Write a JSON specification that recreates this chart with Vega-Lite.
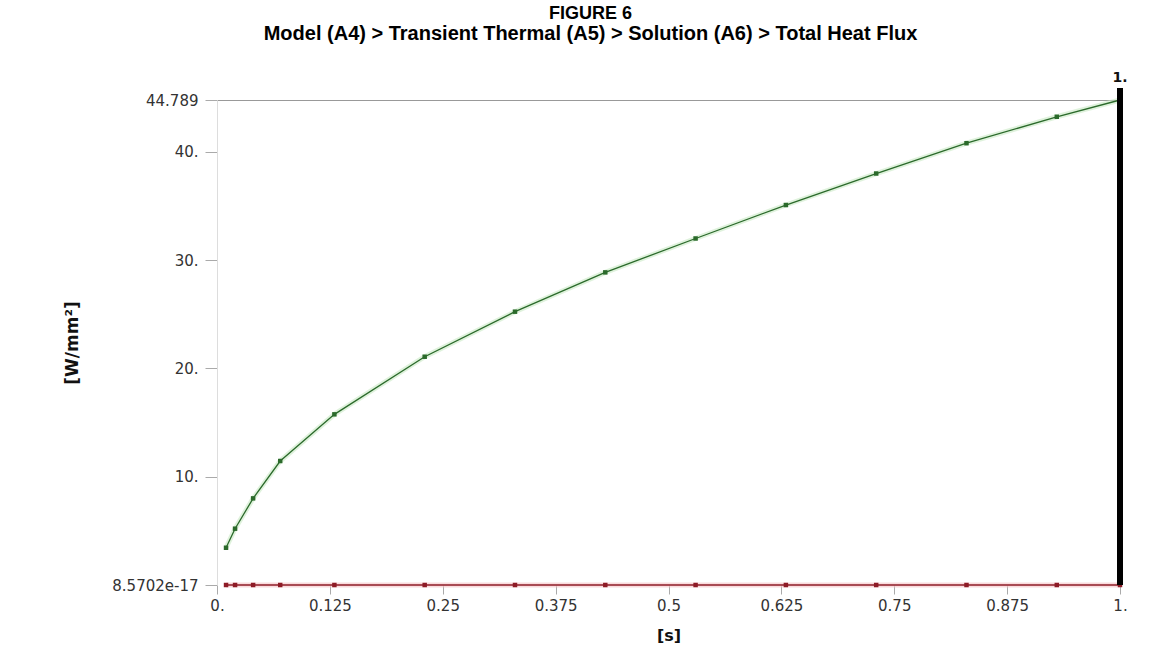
{
  "$schema": "https://vega.github.io/schema/vega-lite/v6.json",
  "autosize": {"type": "none"},
  "width": 903,
  "height": 485,
  "padding": {"left": 217, "top": 100, "right": 36, "bottom": 86},
  "background": "white",
  "title": {
    "text": "FIGURE 6",
    "subtitle": "Model (A4) > Transient Thermal (A5) > Solution (A6) > Total Heat Flux",
    "anchor": "middle",
    "dx": -78,
    "offset": 27,
    "font": "Liberation Sans",
    "fontSize": 18,
    "fontWeight": "bold",
    "color": "#000",
    "subtitleFont": "Liberation Sans",
    "subtitleFontSize": 20,
    "subtitleFontWeight": "bold",
    "subtitleColor": "#000",
    "subtitlePadding": 1
  },
  "config": {
    "view": {"stroke": null},
    "axis": {"labelFont": "DejaVu Sans", "titleFont": "DejaVu Sans"}
  },
  "data": {
    "values": [
      {"t": 0.01, "flux": 3.44, "series": "Maximum"},
      {"t": 0.02, "flux": 5.2, "series": "Maximum"},
      {"t": 0.04, "flux": 8.0, "series": "Maximum"},
      {"t": 0.07, "flux": 11.45, "series": "Maximum"},
      {"t": 0.13, "flux": 15.76, "series": "Maximum"},
      {"t": 0.23, "flux": 21.08, "series": "Maximum"},
      {"t": 0.33, "flux": 25.24, "series": "Maximum"},
      {"t": 0.43, "flux": 28.87, "series": "Maximum"},
      {"t": 0.53, "flux": 32.0, "series": "Maximum"},
      {"t": 0.63, "flux": 35.09, "series": "Maximum"},
      {"t": 0.73, "flux": 38.0, "series": "Maximum"},
      {"t": 0.83, "flux": 40.8, "series": "Maximum"},
      {"t": 0.93, "flux": 43.24, "series": "Maximum"},
      {"t": 1.0, "flux": 44.789, "series": "Maximum"},
      {"t": 0.01, "flux": 8.5702e-17, "series": "Minimum"},
      {"t": 0.02, "flux": 8.5702e-17, "series": "Minimum"},
      {"t": 0.04, "flux": 8.5702e-17, "series": "Minimum"},
      {"t": 0.07, "flux": 8.5702e-17, "series": "Minimum"},
      {"t": 0.13, "flux": 8.5702e-17, "series": "Minimum"},
      {"t": 0.23, "flux": 8.5702e-17, "series": "Minimum"},
      {"t": 0.33, "flux": 8.5702e-17, "series": "Minimum"},
      {"t": 0.43, "flux": 8.5702e-17, "series": "Minimum"},
      {"t": 0.53, "flux": 8.5702e-17, "series": "Minimum"},
      {"t": 0.63, "flux": 8.5702e-17, "series": "Minimum"},
      {"t": 0.73, "flux": 8.5702e-17, "series": "Minimum"},
      {"t": 0.83, "flux": 8.5702e-17, "series": "Minimum"},
      {"t": 0.93, "flux": 8.5702e-17, "series": "Minimum"},
      {"t": 1.0, "flux": 8.5702e-17, "series": "Minimum"}
    ]
  },
  "encoding": {
    "x": {
      "field": "t",
      "type": "quantitative",
      "scale": {"domain": [0, 1], "nice": false, "zero": false},
      "axis": {
        "title": "[s]",
        "titleFontSize": 16,
        "titleFontWeight": "bold",
        "titleColor": "#111",
        "titlePadding": 14,
        "values": [0, 0.125, 0.25, 0.375, 0.5, 0.625, 0.75, 0.875, 1],
        "labelExpr": "datum.value == 0 ? '0.' : (datum.value == 1 ? '1.' : '' + datum.value)",
        "labelFontSize": 15,
        "labelColor": "#333",
        "labelFlush": false,
        "labelPadding": 4,
        "tickColor": "#aaa",
        "tickSize": 9,
        "domain": false,
        "grid": false
      }
    },
    "y": {
      "field": "flux",
      "type": "quantitative",
      "scale": {"domain": [0, 44.789], "nice": false, "zero": false},
      "axis": {
        "title": "[W/mm²]",
        "titleFontSize": 17,
        "titleFontWeight": "bold",
        "titleColor": "#111",
        "titlePadding": 30,
        "values": [0, 10, 20, 30, 40, 44.789],
        "labelExpr": "datum.value == 0 ? '8.5702e-17' : (datum.value > 44 ? '44.789' : datum.value + '.')",
        "labelFontSize": 15,
        "labelColor": "#333",
        "labelFlush": false,
        "labelPadding": 7,
        "tickColor": "#aaa",
        "tickSize": 12,
        "domainColor": "#ddd",
        "grid": true,
        "gridColor": "#999",
        "gridOpacity": {"condition": {"test": "datum.value > 44", "value": 1}, "value": 0}
      }
    }
  },
  "layer": [
    {
      "mark": {"type": "line", "strokeWidth": 5, "opacity": 0.6},
      "encoding": {
        "detail": {"field": "series"},
        "color": {"condition": {"test": "datum.series == 'Maximum'", "value": "#c9e9c4"}, "value": "#f6c3c6"}
      }
    },
    {
      "mark": {"type": "line", "strokeWidth": 1.3},
      "encoding": {
        "color": {"field": "series", "type": "nominal", "scale": {"domain": ["Maximum", "Minimum"], "range": ["#2b6a2b", "#8e1b26"]}, "legend": null}
      }
    },
    {
      "mark": {"type": "point", "shape": "square", "filled": true, "size": 20, "opacity": 1},
      "encoding": {
        "color": {"field": "series", "type": "nominal", "legend": null}
      }
    },
    {
      "transform": [{"filter": "datum.series == 'Maximum' && datum.t == 1"}],
      "mark": {"type": "rule", "strokeWidth": 6, "stroke": "#000", "clip": false},
      "encoding": {
        "x": {"field": "t", "type": "quantitative"},
        "y": {"datum": 0, "type": "quantitative"},
        "y2": {"datum": 45.9}
      }
    },
    {
      "transform": [{"filter": "datum.series == 'Maximum' && datum.t == 1"}],
      "mark": {"type": "text", "font": "DejaVu Sans", "fontSize": 14, "fontWeight": "bold", "fill": "#111", "baseline": "bottom", "dy": -3, "clip": false},
      "encoding": {
        "x": {"field": "t", "type": "quantitative"},
        "y": {"datum": 45.9, "type": "quantitative"},
        "text": {"value": "1."}
      }
    }
  ]
}
